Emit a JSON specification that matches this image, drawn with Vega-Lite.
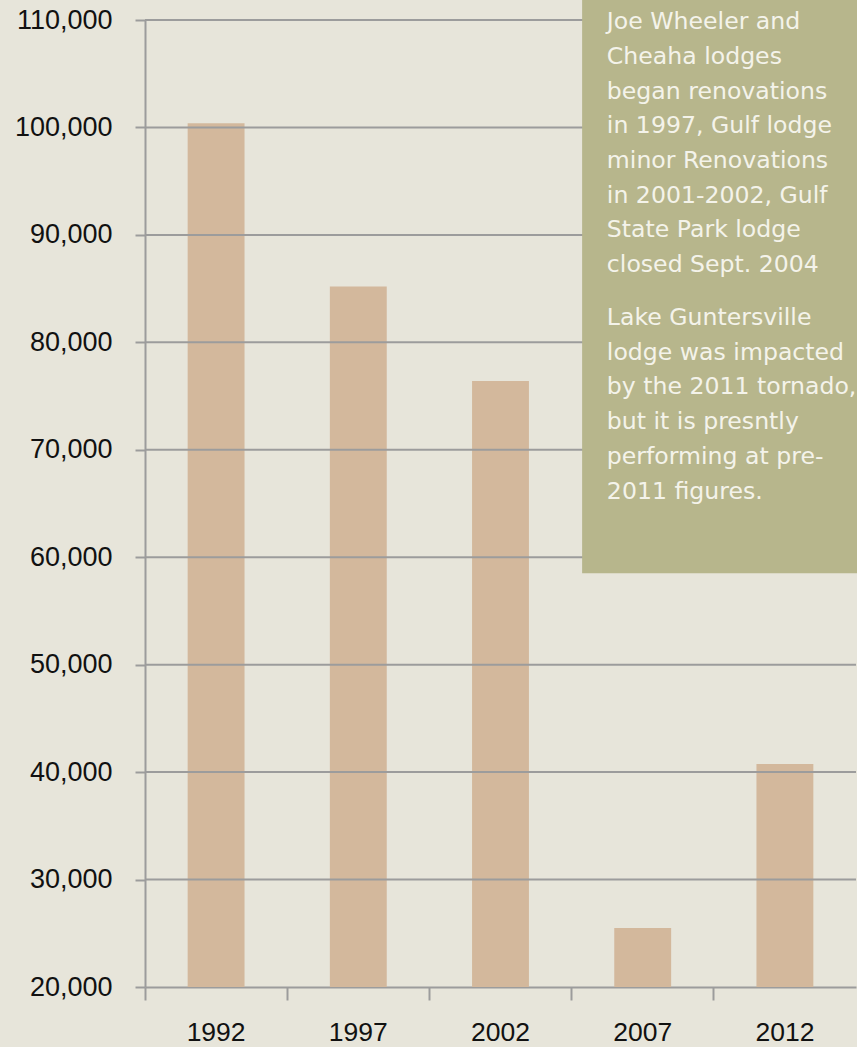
{
  "$schema": "https://vega.github.io/schema/vega-lite/v6.json",
  "autosize": {"type": "none"},
  "width": 711,
  "height": 967,
  "padding": {"left": 145, "top": 20, "right": 1, "bottom": 60},
  "background": "#e7e5da",
  "config": {"view": {"stroke": null}},
  "datasets": {
    "lodges": [
      {"year": "1992", "guests": 100400},
      {"year": "1997", "guests": 85200},
      {"year": "2002", "guests": 76400},
      {"year": "2007", "guests": 25500},
      {"year": "2012", "guests": 40750}
    ],
    "grid": [
      {"v": 30000}, {"v": 40000}, {"v": 50000}, {"v": 60000}, {"v": 70000},
      {"v": 80000}, {"v": 90000}, {"v": 100000}, {"v": 110000}
    ]
  },
  "layer": [
    {
      "data": {"name": "lodges"},
      "mark": {"type": "bar", "color": "#d3b89c", "width": {"band": 0.4}, "clip": true},
      "encoding": {
        "x": {
          "field": "year", "type": "ordinal",
          "scale": {"paddingInner": 0, "paddingOuter": 0},
          "axis": {
            "title": null, "bandPosition": 0, "labelAngle": 0,
            "domainColor": "#9c9c9c", "domainWidth": 2,
            "tickColor": "#9c9c9c", "tickWidth": 2, "tickSize": 13,
            "labelFont": "Liberation Sans", "labelFontSize": 26.5, "labelColor": "#111111",
            "labelPadding": 19
          }
        },
        "y": {
          "field": "guests", "type": "quantitative",
          "scale": {"domain": [20000, 110000], "nice": false, "zero": false},
          "axis": {
            "title": null, "grid": false,
            "values": [20000, 30000, 40000, 50000, 60000, 70000, 80000, 90000, 100000, 110000],
            "format": ",d",
            "domainColor": "#9c9c9c", "domainWidth": 2,
            "tickColor": "#9c9c9c", "tickWidth": 2, "tickSize": 10,
            "labelFont": "Liberation Sans", "labelFontSize": 27, "labelColor": "#111111",
            "labelPadding": 23
          }
        }
      }
    },
    {
      "data": {"name": "grid"},
      "mark": {"type": "rule", "color": "#9c9c9c", "strokeWidth": 2},
      "encoding": {
        "y": {"field": "v", "type": "quantitative"}
      }
    },
    {
      "data": {"values": [{}]},
      "layer": [
        {
          "mark": {"type": "rect", "color": "#b7b68c", "clip": false},
          "encoding": {
            "x": {"datum": 2004.87, "type": "quantitative",
                  "scale": {"domain": [1989.5, 2014.5], "nice": false, "zero": false}, "axis": null},
            "x2": {"datum": 2014.55},
            "y": {"datum": 111870, "type": "quantitative"},
            "y2": {"datum": 58500}
          }
        },
        {
          "mark": {
            "type": "text", "align": "left", "baseline": "alphabetic",
            "font": "DejaVu Sans", "fontSize": 23.6, "lineHeight": 34.7,
            "color": "#f4f3ea", "clip": false,
            "text": ["Joe Wheeler and", "Cheaha lodges", "began renovations", "in 1997, Gulf lodge", "minor Renovations", "in 2001-2002, Gulf", "State Park lodge", "closed Sept. 2004"]
          },
          "encoding": {
            "x": {"datum": 2005.74, "type": "quantitative"},
            "y": {"datum": 109134, "type": "quantitative"}
          }
        },
        {
          "mark": {
            "type": "text", "align": "left", "baseline": "alphabetic",
            "font": "DejaVu Sans", "fontSize": 23.6, "lineHeight": 34.7,
            "color": "#f4f3ea", "clip": false,
            "text": ["Lake Guntersville", "lodge was impacted", "by the 2011 tornado,", "but it is presntly", "performing at pre-", "2011 figures."]
          },
          "encoding": {
            "x": {"datum": 2005.74, "type": "quantitative"},
            "y": {"datum": 81613, "type": "quantitative"}
          }
        }
      ]
    }
  ],
  "resolve": {"scale": {"x": "independent"}, "axis": {"x": "independent"}}
}
